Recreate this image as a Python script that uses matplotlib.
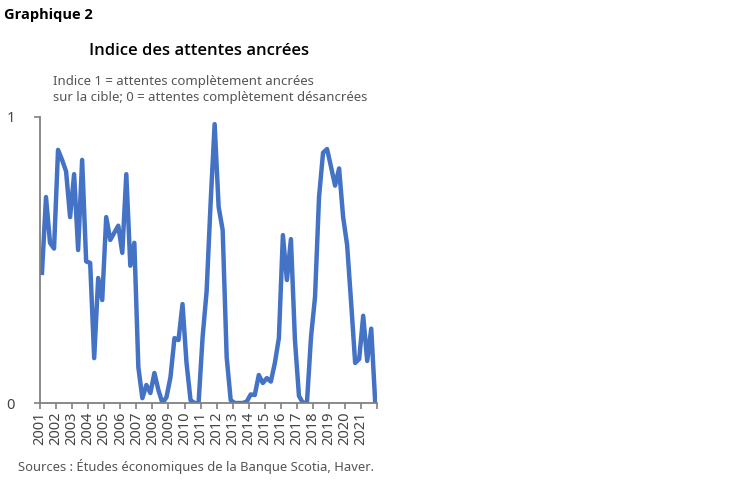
import numpy as np
import matplotlib
matplotlib.use("Agg")
import matplotlib.pyplot as plt

plt.rcParams['font.family'] = ['Noto Sans', 'DejaVu Sans']

# trimestriel, 2001T1 - 2021T4
years = [str(y) for y in range(2001, 2022)]
indice = [
    0.455, 0.72, 0.56, 0.54, 0.885, 0.85, 0.81, 0.65, 0.80, 0.535, 0.85, 0.495,
    0.49, 0.157, 0.437, 0.36, 0.65, 0.57, 0.595, 0.62, 0.525, 0.80, 0.48, 0.56,
    0.125, 0.017, 0.063, 0.035, 0.105, 0.045, 0.0, 0.02, 0.09, 0.227, 0.22, 0.346,
    0.14, 0.01, 0.0, 0.0, 0.23, 0.39, 0.70, 0.975, 0.685, 0.605, 0.16, 0.01,
    0.0, 0.0, 0.0, 0.005, 0.03, 0.028, 0.098, 0.07, 0.087, 0.075, 0.14, 0.227,
    0.587, 0.43, 0.573, 0.22, 0.025, 0.0, 0.003, 0.23, 0.37, 0.72, 0.875, 0.888,
    0.825, 0.76, 0.82, 0.65, 0.552, 0.35, 0.14, 0.154, 0.305, 0.147, 0.26, 0.0,
]

fig = plt.figure(figsize=(7.5, 4.83), dpi=100)
ax = fig.add_axes([0.0533, 0.1656, 0.4497, 0.5922])

x = np.arange(len(indice))
ax.plot(x, indice, color='#4472C4', lw=3.2, solid_joinstyle='round')

ax.set_xlim(-0.5, len(indice) - 0.5)
ax.set_ylim(0, 1)
ax.set_xticks(np.arange(-0.5, len(indice), 4))
ax.set_xticklabels(years + [''], rotation=90, fontsize=10.5, color='#444444')
ax.set_yticks([0, 1])
ax.set_yticklabels(['0', '1'], fontsize=10.5, color='#444444')
ax.tick_params(axis='x', length=4, width=1.2, color='#808080', pad=2)
ax.tick_params(axis='y', length=4, width=1.2, color='#808080', pad=14)

for s in ['top', 'right']:
    ax.spines[s].set_visible(False)
for s in ['left', 'bottom']:
    ax.spines[s].set_color('#808080')
    ax.spines[s].set_linewidth(1.3)

bold = ['Open Sans', 'DejaVu Sans']
fig.text(0.005, 0.968, 'Graphique 2', fontsize=10.5, fontweight='bold',
         family=bold, va='center')
fig.text(0.265, 0.895, 'Indice des attentes ancrées', fontsize=12,
         fontweight='semibold', family=bold, ha='center', va='center')
fig.text(0.0707, 0.815, 'Indice 1 = attentes complètement ancrées\n'
         'sur la cible; 0 = attentes complètement désancrées',
         fontsize=9.5, color='#555555', va='center', linespacing=1.25)
fig.text(0.262, 0.035, 'Sources : Études économiques de la Banque Scotia, Haver.',
         fontsize=9.35, color='#555555', ha='center', va='center')

fig.savefig('out.png', dpi=100)
